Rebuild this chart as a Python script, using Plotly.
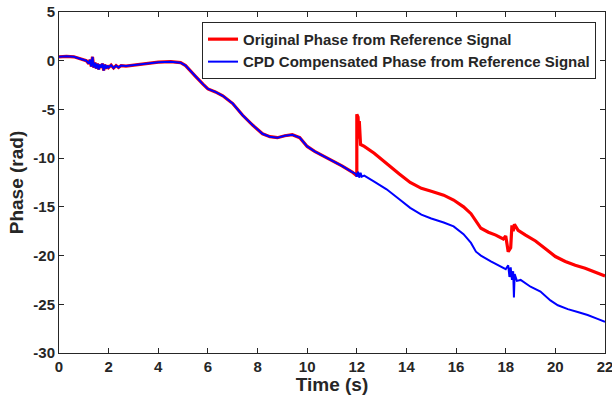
import plotly.graph_objects as go

# Shared portion (both signals coincide before t = 12 s)
t_common = [0, 0.3, 0.6, 0.9, 1.1, 1.2, 1.25, 1.3, 1.35, 1.4, 1.45, 1.5, 1.55, 1.6, 1.65, 1.7,
            1.75, 1.8, 1.85, 1.9, 1.95, 2.0, 2.1, 2.2, 2.3, 2.4, 2.5, 2.7, 3.0, 3.5, 4.0, 4.5,
            4.9, 5.1, 5.3, 5.5, 5.8, 6.0, 6.3, 6.6, 7.0, 7.4, 7.8, 8.2, 8.5, 8.8, 9.1, 9.4,
            9.7, 10.0, 10.3, 10.6, 11.0, 11.4, 11.8]
phase_common = [0.4, 0.45, 0.4, 0.2, 0.0, -0.3, 0.1, -0.6, 0.4, -0.7, -0.2, -0.8, -0.3, -0.9,
                -0.4, -0.7, -0.3, -1.0, -0.4, -0.8, -0.5, -0.7, -0.45, -0.75, -0.5, -0.7, -0.5,
                -0.55, -0.45, -0.3, -0.15, -0.1, -0.2, -0.5, -1.0, -1.6, -2.4, -2.9, -3.2, -3.6,
                -4.4, -5.6, -6.6, -7.5, -7.8, -7.9, -7.7, -7.6, -7.9, -8.8, -9.3, -9.7, -10.2,
                -10.8, -11.4]

t_red_tail = [12.0, 12.0, 12.05, 12.08, 12.1, 12.15, 12.3, 12.7, 13.2, 13.7, 14.15, 14.6, 15.0,
              15.5, 15.9, 16.3, 16.6, 16.8, 17.0, 17.3, 17.6, 17.9, 18.0, 18.1, 18.2, 18.25,
              18.3, 18.35, 18.5, 18.8, 19.2, 19.6, 20.0, 20.4, 20.8, 21.2, 21.6, 22.0]
phase_red_tail = [-11.8, -5.5, -5.8, -8.0, -6.2, -8.6, -8.8, -9.5, -10.6, -11.6, -12.5, -13.1,
                  -13.4, -13.8, -14.3, -15.0, -15.7, -16.5, -17.2, -17.6, -17.9, -18.3, -18.0,
                  -19.6, -19.2, -16.9, -17.5, -16.8, -17.4, -17.9, -18.5, -19.3, -20.1, -20.6,
                  -21.0, -21.3, -21.7, -22.1]

t_blue_tail = [11.95, 12.0, 12.05, 12.1, 12.15, 12.2, 12.3, 12.7, 13.2, 13.7, 14.15, 14.6, 15.0,
               15.5, 15.9, 16.3, 16.6, 16.8, 17.0, 17.4, 17.8, 18.0, 18.1, 18.15, 18.2, 18.25,
               18.3, 18.33, 18.36, 18.45, 18.6, 19.0, 19.4, 19.8, 20.1, 20.5, 20.9, 21.3, 21.7,
               22.0]
phase_blue_tail = [-11.6, -11.9, -11.4, -12.0, -11.5, -11.9, -11.8, -12.4, -13.2, -14.2, -15.1,
                   -15.8, -16.2, -16.6, -17.0, -17.8, -18.7, -19.6, -20.0, -20.6, -21.1, -21.4,
                   -21.0, -22.2, -21.2, -22.5, -21.6, -24.3, -21.9, -22.6, -22.5, -23.2, -23.7,
                   -24.6, -25.1, -25.5, -25.8, -26.1, -26.5, -26.8]

x_ticks = [0, 2, 4, 6, 8, 10, 12, 14, 16, 18, 20, 22]
y_ticks = [5, 0, -5, -10, -15, -20, -25, -30]

t_red = t_common + t_red_tail
phase_red = phase_common + phase_red_tail
t_blue = t_common + t_blue_tail
phase_blue = phase_common + phase_blue_tail

fig = go.Figure()
fig.add_trace(go.Scatter(x=t_red, y=phase_red, mode="lines",
                         line=dict(color="#ff0000", width=3.2),
                         name="Original Phase from Reference Signal"))
fig.add_trace(go.Scatter(x=t_blue, y=phase_blue, mode="lines",
                         line=dict(color="#0000ff", width=2.0),
                         name="CPD Compensated Phase from Reference Signal"))

font_fam = "Liberation Sans, Arial, sans-serif"
axis_common = dict(showgrid=False, zeroline=False, showline=True, linecolor="#262626",
                   linewidth=1, mirror="ticks", ticks="inside", ticklen=5, tickcolor="#262626",
                   ticklabeloverflow="allow", automargin=False,
                   tickfont=dict(family=font_fam, size=15, color="#262626", weight="bold"))

fig.update_layout(
    width=612, height=395,
    margin=dict(l=59, r=7, t=12, b=42),
    paper_bgcolor="white", plot_bgcolor="white",
    xaxis=dict(range=[0, 22], tickvals=x_ticks, ticktext=[str(v) for v in x_ticks],
               title=dict(text="Time (s)", standoff=2,
                          font=dict(family=font_fam, size=19, color="#262626", weight="bold")),
               **axis_common),
    yaxis=dict(range=[-30, 5], tickvals=y_ticks, ticktext=[str(v) for v in y_ticks],
               title=dict(text="Phase (rad)", standoff=4,
                          font=dict(family=font_fam, size=19, color="#262626", weight="bold")),
               **axis_common),
    legend=dict(x=0.9835, y=0.971, xanchor="right", yanchor="top",
                bgcolor="white", bordercolor="#262626", borderwidth=1,
                font=dict(family=font_fam, size=15, color="#262626", weight="bold"),
                tracegroupgap=0, itemwidth=30),
    showlegend=True,
)

fig.write_html("out.html")
